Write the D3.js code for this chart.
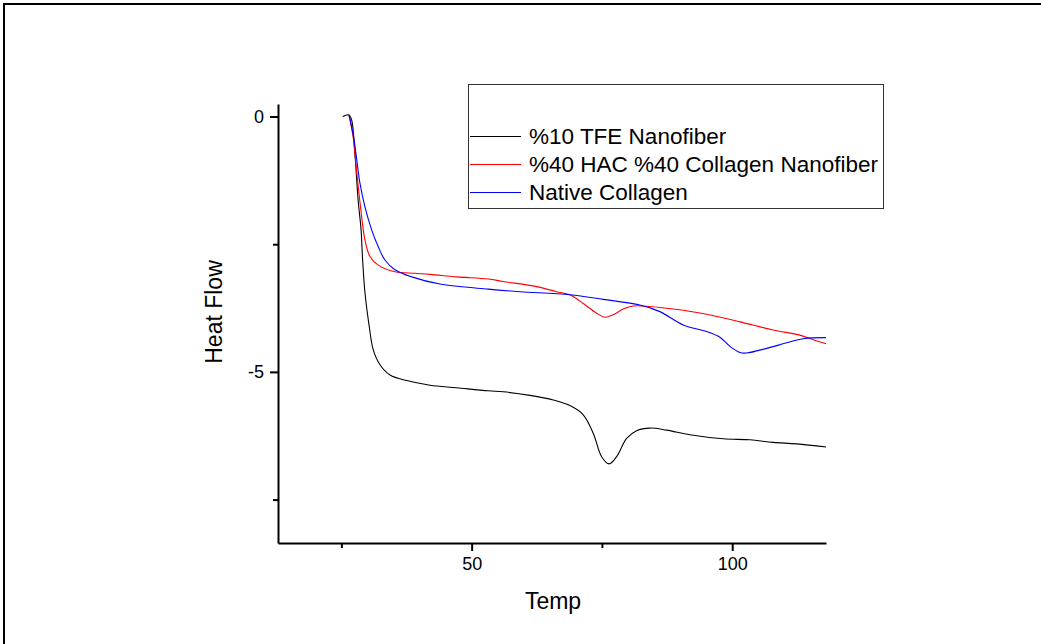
<!DOCTYPE html>
<html>
<head>
<meta charset="utf-8">
<script src="https://cdn.jsdelivr.net/npm/d3@7"></script>
<style>
  body { margin: 0; background: #fff; }
  text { font-family: Arial, "Liberation Sans", sans-serif; fill: #000; }
</style>
</head>
<body>
<div id="chart"></div>
<script>
// Data
const seriesNames = ["%10 TFE Nanofiber", "%40 HAC %40 Collagen Nanofiber", "Native Collagen"];
const seriesColors = ["#000000", "#ff0000", "#0000ff"];

const tfeTemp = [25.25, 26.46, 26.98, 27.61, 28.24, 28.76, 29.08, 29.53, 30.35, 31.12, 32.41, 34.33, 37.53, 42.0, 47.12, 53.18, 56.06, 61.19, 65.66, 68.86, 71.41, 73.33, 74.94, 76.4, 77.82, 79.74, 81.66, 84.21, 87.41, 91.88, 98.27, 103.4, 107.87, 112.36, 118.0];
const tfeFlow = [0.0, 0.03, -0.07, -0.75, -1.67, -2.19, -2.81, -3.45, -4.11, -4.57, -4.86, -5.06, -5.17, -5.26, -5.31, -5.37, -5.39, -5.46, -5.55, -5.66, -5.84, -6.2, -6.66, -6.8, -6.66, -6.3, -6.15, -6.1, -6.14, -6.23, -6.31, -6.33, -6.38, -6.41, -6.47];

const hacTemp = [26.46, 27.28, 27.94, 28.89, 29.53, 30.49, 32.08, 35.28, 39.12, 42.0, 47.12, 53.18, 56.06, 62.47, 66.31, 68.86, 71.41, 73.98, 75.58, 77.17, 79.09, 81.0, 84.21, 88.68, 95.09, 101.48, 107.87, 112.99, 115.54, 118.0];
const hacFlow = [0.03, -0.42, -1.08, -1.96, -2.42, -2.74, -2.91, -3.04, -3.07, -3.09, -3.14, -3.18, -3.23, -3.33, -3.43, -3.49, -3.66, -3.85, -3.93, -3.88, -3.77, -3.71, -3.72, -3.77, -3.87, -4.02, -4.18, -4.28, -4.37, -4.45];

const nativeTemp = [26.46, 27.38, 28.57, 29.53, 30.81, 32.08, 33.36, 35.28, 38.49, 43.92, 53.18, 59.27, 68.86, 75.25, 82.29, 86.13, 90.6, 95.09, 97.64, 99.56, 101.48, 102.76, 106.6, 110.44, 113.62, 118.0];
const nativeFlow = [0.03, -0.42, -1.31, -1.77, -2.22, -2.55, -2.81, -3.0, -3.14, -3.28, -3.38, -3.43, -3.49, -3.58, -3.69, -3.82, -4.08, -4.21, -4.32, -4.5, -4.62, -4.63, -4.54, -4.43, -4.35, -4.33];

const xTicks = [25, 50, 75, 100];
const xLabels = [50, 100];
const yTicks = [0, -2.5, -5, -7.5];
const yLabels = [0, -5];

const width = 1041, height = 644;

const svg = d3.select("#chart")
  .append("svg")
  .attr("width", width)
  .attr("height", height);

// outer frame
svg.append("rect")
  .attr("x", 4).attr("y", 4)
  .attr("width", width + 20).attr("height", height + 20)
  .attr("fill", "none")
  .attr("stroke", "#000")
  .attr("stroke-width", 2);

const x = d3.scaleLinear().domain([12.84, 118]).range([278, 826]);
const y = d3.scaleLinear().domain([0.245, -8.35]).range([104, 543]);

// curves
const line = d3.line()
  .x(d => x(d[0]))
  .y(d => y(d[1]))
  .curve(d3.curveCatmullRom.alpha(0.5));

const series = [
  d3.zip(tfeTemp, tfeFlow),
  d3.zip(hacTemp, hacFlow),
  d3.zip(nativeTemp, nativeFlow)
];

series.forEach((s, i) => {
  svg.append("path")
    .datum(s)
    .attr("fill", "none")
    .attr("stroke", seriesColors[i])
    .attr("stroke-width", 1.1)
    .attr("d", line);
});

// x axis
const xAxis = svg.append("g")
  .attr("transform", `translate(0,${y.range()[1]})`)
  .call(d3.axisBottom(x)
    .tickValues(xTicks)
    .tickSizeInner(8)
    .tickSizeOuter(0)
    .tickPadding(6)
    .tickFormat(d => xLabels.includes(d) ? d : ""));
xAxis.select(".domain").attr("stroke-width", 2);
xAxis.selectAll(".tick line")
  .attr("stroke-width", 2)
  .attr("y2", d => xLabels.includes(d) ? 8 : 5);
xAxis.selectAll(".tick text").style("font-size", "18px");

// y axis
const yAxis = svg.append("g")
  .attr("transform", `translate(${x.range()[0]},0)`)
  .call(d3.axisLeft(y)
    .tickValues(yTicks)
    .tickSizeInner(8)
    .tickSizeOuter(0)
    .tickPadding(6)
    .tickFormat(d => yLabels.includes(d) ? d : ""));
yAxis.select(".domain").attr("stroke-width", 2);
yAxis.selectAll(".tick line")
  .attr("stroke-width", 2)
  .attr("x2", d => yLabels.includes(d) ? -8 : -5);
yAxis.selectAll(".tick text").style("font-size", "18px");

// axis titles
svg.append("text")
  .attr("x", 553)
  .attr("y", 609)
  .attr("text-anchor", "middle")
  .style("font-size", "23px")
  .text("Temp");

svg.append("text")
  .attr("transform", "translate(222,312) rotate(-90)")
  .attr("text-anchor", "middle")
  .style("font-size", "23px")
  .text("Heat Flow");

// legend
const legend = svg.append("g");
legend.append("rect")
  .attr("x", 468.5).attr("y", 84.5)
  .attr("width", 415).attr("height", 124)
  .attr("fill", "#fff")
  .attr("stroke", "#333")
  .attr("stroke-width", 1);

const rowY = [136.5, 164.5, 192.5];
seriesNames.forEach((name, i) => {
  legend.append("line")
    .attr("x1", 470).attr("x2", 521)
    .attr("y1", rowY[i]).attr("y2", rowY[i])
    .attr("stroke", seriesColors[i])
    .attr("stroke-width", 1);
  legend.append("text")
    .attr("x", 529)
    .attr("y", rowY[i] + 7.5)
    .style("font-size", "22.5px")
    .text(name);
});
</script>
</body>
</html>
